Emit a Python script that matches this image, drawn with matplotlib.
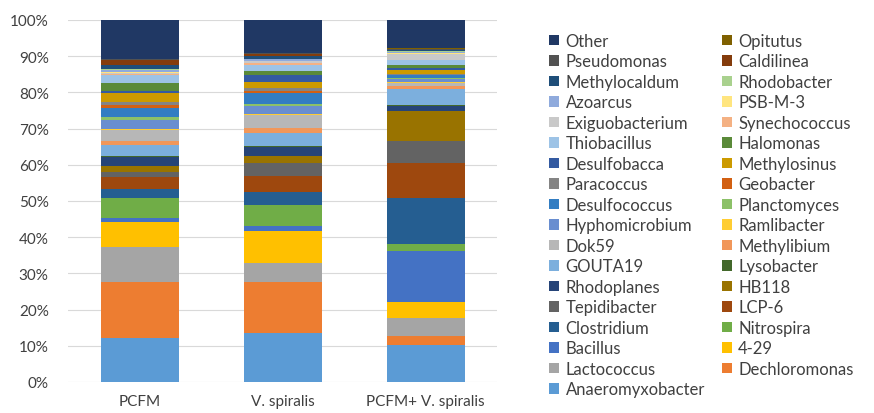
import numpy as np
import matplotlib.pyplot as plt

plt.rcParams['font.family'] = ['Lato', 'DejaVu Sans']

samples = ["PCFM", "V. spiralis", "PCFM+ V. spiralis"]

# genera, bottom of the stack first
genera = ["Anaeromyxobacter", "Dechloromonas", "Lactococcus", "4-29", "Bacillus",
          "Nitrospira", "Clostridium", "LCP-6", "Tepidibacter", "HB118",
          "Rhodoplanes", "Lysobacter", "GOUTA19", "Methylibium", "Dok59",
          "Ramlibacter", "Hyphomicrobium", "Planctomyces", "Desulfococcus", "Geobacter",
          "Paracoccus", "Methylosinus", "Desulfobacca", "Halomonas", "Thiobacillus",
          "Synechococcus", "Exiguobacterium", "PSB-M-3", "Azoarcus", "Rhodobacter",
          "Methylocaldum", "Caldilinea", "Pseudomonas", "Opitutus", "Other"]

# relative abundance (%) per sample, same order as genera
pcfm = [12.2, 15.8, 9.8, 6.9, 1.2, 5.6, 2.5, 3.3, 1.3, 1.9,
        2.5, 0.3, 3.0, 1.1, 3.0, 0.3, 2.6, 0.9, 2.3, 0.9,
        0.9, 2.4, 0.7, 2.3, 2.0, 0.3, 0.4, 0.3, 0.5, 0.3,
        1.0, 1.4, 0.3, 0.2, 10.8]
spiralis = [13.4, 14.1, 5.5, 8.6, 1.4, 5.9, 3.7, 4.4, 3.5, 2.0,
            2.4, 0.3, 3.7, 1.2, 3.7, 0.2, 2.1, 0.8, 2.9, 0.7,
            0.6, 1.9, 1.7, 1.1, 1.8, 0.5, 0.5, 0.2, 0.3, 0.2,
            0.8, 0.6, 0.2, 0.1, 9.0]
mixed = [10.2, 2.6, 4.8, 4.4, 14.0, 2.1, 12.6, 9.8, 6.0, 8.3,
         1.3, 0.2, 4.6, 0.6, 0.8, 0.3, 1.0, 0.2, 0.7, 0.2,
         0.3, 1.0, 0.5, 0.8, 1.4, 0.2, 1.5, 0.2, 0.3, 0.3,
         0.2, 0.2, 0.3, 0.1, 7.8]

colors = ["#5B9BD5", "#ED7D31", "#A5A5A5", "#FFC000", "#4472C4", "#70AD47",
          "#255E91", "#9E480E", "#636363", "#997300", "#264478", "#43682B",
          "#7CAFDD", "#F1975A", "#B7B7B7", "#FFCD33", "#698ED0", "#8CC168",
          "#327DC2", "#D26012", "#848484", "#CC9A00", "#335AA1", "#5A8A39",
          "#9DC3E6", "#F4B183", "#C9C9C9", "#FFE57F", "#8FAADC", "#A9D18E",
          "#1F4E79", "#843C0C", "#525252", "#7F6000", "#203864"]

data = np.array([pcfm, spiralis, mixed], dtype=float)
data = data / data.sum(axis=1, keepdims=True)

fig = plt.figure(figsize=(8.74, 4.14), dpi=100)
ax = fig.add_axes([0.078, 0.075, 0.491, 0.8743])

x = np.arange(len(samples))
bottom = np.zeros(len(samples))
handles = []
for i, name in enumerate(genera):
    h = ax.bar(x, data[:, i], 0.545, bottom=bottom, color=colors[i], label=name, zorder=2)
    bottom += data[:, i]
    handles.append(h)

ax.set_xlim(-0.5, 2.5)
ax.set_ylim(0, 1)
ax.set_yticks(np.arange(0, 1.01, 0.1))
ax.set_yticklabels(["%d%%" % round(v * 100) for v in np.arange(0, 1.01, 0.1)])
ax.set_xticks(x)
ax.set_xticklabels(samples)
ax.tick_params(length=0, labelsize=11, colors="#404040")
ax.tick_params(axis="x", pad=9)
ax.tick_params(axis="y", pad=14)
ax.grid(axis="y", color="#D9D9D9", linewidth=0.8, zorder=0)
for s in ax.spines.values():
    s.set_visible(False)

# legend: Excel-style reversed order, read row by row
rev = handles[::-1]
order = rev[0::2] + rev[1::2]
fig.legend(order, [h.get_label() for h in order], ncol=2, loc="upper left",
           bbox_to_anchor=(0.628, 0.918), frameon=False, fontsize=12,
           handlelength=0.6, handleheight=0.6, handletextpad=0.4,
           labelspacing=0.27, columnspacing=1.0, labelcolor="#404040",
           borderaxespad=0, borderpad=0)

fig.savefig("out.png", dpi=100)
